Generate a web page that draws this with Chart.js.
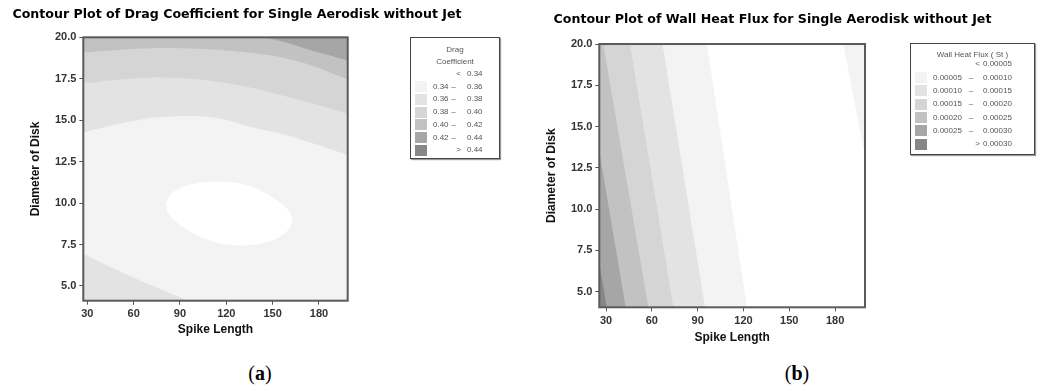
<!DOCTYPE html>
<html>
<head>
<meta charset="utf-8">
<script src="https://cdn.jsdelivr.net/npm/chart.js@4/dist/chart.umd.min.js"></script>
<style>
  body { margin: 0; background: #fff; width: 1043px; height: 391px; position: relative; overflow: hidden; font-family: "Liberation Sans", Arial, sans-serif; }
  canvas { position: absolute; top: 0; }
  #chartA { left: 0; }
  #chartB { left: 520px; }
  .legend { position: absolute; box-sizing: border-box; border: 1px solid #444; box-shadow: 1px 1px 1px #999; background: #fff; color: #555; font-size: 8px; }
  .legend span { position: absolute; white-space: nowrap; line-height: 10px; }
  .legend .sw { position: absolute; width: 12px; height: 11px; }
  .cap { position: absolute; top: 360px; width: 60px; text-align: center; font: 20px "Liberation Serif", serif; line-height: 26px; color: #000; }
</style>
</head>
<body>
<canvas id="chartA" width="474" height="350"></canvas>
<canvas id="chartB" width="505" height="350"></canvas>
<div id="legendA" class="legend"></div>
<div id="legendB" class="legend"></div>
<div class="cap" style="left:230px">(<b>a</b>)</div>
<div class="cap" style="left:767px">(<b>b</b>)</div>
<script>
// axes
const spikeTicks = [30, 60, 90, 120, 150, 180];
const diskTicks = [5, 7.5, 10, 12.5, 15, 17.5, 20];

// (a) drag coefficient contour lines, [spike length, disk diameter]
const dragLevel034 = [[80.9, 9.98], [84.6, 10.58], [92.1, 10.98], [102.9, 11.22], [115.9, 11.28], [128.8, 11.19],
  [141.8, 10.78], [152.6, 10.18], [160.1, 9.58], [162.7, 8.98], [160.1, 8.37], [152.6, 7.87], [139.6, 7.51],
  [128.8, 7.43], [115.9, 7.57], [102.9, 7.97], [90, 8.67], [82.4, 9.38], [80.9, 9.98]];
const dragLevel036 = [[27, 14.26], [57.6, 14.92], [79.2, 15.2], [111.6, 15.16], [139.6, 14.5], [155, 14.2], [176.3, 13.6], [199, 12.9]];
const dragLevel036Low = [[27, 6.97], [46.8, 6.07], [68.4, 5.16], [95, 4.1]];
const dragLevel038 = [[27, 17.2], [51, 17.45], [79.2, 17.57], [122.4, 17.2], [165.5, 16.27], [199, 15.4]];
const dragLevel040 = [[27, 19.08], [55, 19.27], [90, 19.34], [133.2, 19.08], [165.5, 18.57], [199, 17.45]];
const dragLevel042 = [[144, 20], [158, 19.7], [172, 19.3], [199, 18.6]];

// (b) wall heat flux contour lines, [spike length, disk diameter]
const fluxLevel005 = [[122.3, 4.05], [96, 20]];
const fluxLevel010 = [[94.8, 4.05], [67, 20]];
const fluxLevel015 = [[74.1, 4.05], [45.7, 20]];
const fluxLevel020 = [[57.7, 4.05], [28.2, 20]];
const fluxLevel025 = [[42.9, 4.05], [25.6, 13.5]];
const fluxLevel030 = [[30.5, 4.05], [25.6, 6.7]];
const fluxLevel005Top = [[185.4, 20], [199.6, 13.2]];

// legend breaks
const dragBreaks = ['0.34', '0.36', '0.38', '0.40', '0.42', '0.44'];
const fluxBreaks = ['0.00005', '0.00010', '0.00015', '0.00020', '0.00025', '0.00030'];

const grays = ['#ffffff', '#f3f3f3', '#e3e3e3', '#d5d5d5', '#c2c2c2', '#a6a6a6', '#878787'];

Chart.defaults.font.family = '"Liberation Sans", Arial, sans-serif';

function toXY(pts) {
  return pts.map(p => ({ x: p[0], y: p[1] }));
}

function band(pts, color, fill, tension) {
  return {
    data: toXY(pts),
    fill: fill,
    backgroundColor: color,
    borderColor: 'rgba(0,0,0,0)',
    borderWidth: 0,
    pointRadius: 0,
    tension: tension
  };
}

function framePlugin(base) {
  return {
    id: 'frame',
    beforeDatasetsDraw(chart) {
      const { ctx, chartArea: a } = chart;
      ctx.save();
      ctx.fillStyle = base;
      ctx.fillRect(a.left, a.top, a.right - a.left, a.bottom - a.top);
      ctx.restore();
    },
    afterDatasetsDraw(chart) {
      const { ctx, chartArea: a } = chart;
      ctx.save();
      ctx.strokeStyle = '#5a5a5a';
      ctx.lineWidth = 2;
      ctx.strokeRect(a.left, a.top, a.right - a.left, a.bottom - a.top);
      ctx.restore();
    }
  };
}

function makeChart(id, o) {
  // first dataset in the list is painted at the bottom
  o.datasets.forEach((d, i) => { d.order = o.datasets.length - i; });
  const tickFont = { size: 11, weight: 'bold' };
  return new Chart(document.getElementById(id), {
    type: 'line',
    data: { datasets: o.datasets },
    options: {
      responsive: false,
      devicePixelRatio: 1,
      animation: false,
      layout: { padding: 0 },
      plugins: {
        legend: { display: false },
        tooltip: { enabled: false },
        title: {
          display: true,
          text: o.title,
          color: '#000',
          font: { family: '"DejaVu Sans", sans-serif', size: 12.6, weight: 'bold' },
          padding: { top: o.titleTop, bottom: o.titleBottom }
        }
      },
      scales: {
        x: {
          type: 'linear',
          min: o.xMin, max: o.xMax,
          afterBuildTicks: s => { s.ticks = spikeTicks.map(v => ({ value: v })); },
          afterFit: s => { s.height = o.xAxisH; },
          ticks: { color: '#333', font: tickFont, padding: 3, maxRotation: 0, callback: v => String(v) },
          grid: { drawOnChartArea: false, tickLength: 4, color: '#555' },
          border: { display: false },
          title: { display: true, text: 'Spike Length', color: '#111', font: { size: 12, weight: 'bold' }, padding: { top: 0, bottom: o.xTitlePad } }
        },
        y: {
          type: 'linear',
          min: o.yMin, max: 20,
          afterBuildTicks: s => { s.ticks = diskTicks.map(v => ({ value: v })); },
          afterFit: s => { s.width = o.yAxisW; },
          ticks: { color: '#333', font: tickFont, padding: 3, callback: v => v.toFixed(1) },
          grid: { drawOnChartArea: false, tickLength: 4, color: '#555' },
          border: { display: false },
          title: { display: true, text: 'Diameter of Disk', color: '#111', font: { size: 12, weight: 'bold' }, padding: { top: o.yTitlePad, bottom: 0 } }
        },
        gap: {
          type: 'linear',
          position: 'right',
          display: true,
          afterFit: s => { s.width = o.rightW; },
          ticks: { display: false },
          grid: { display: false },
          border: { display: false }
        }
      }
    },
    plugins: [framePlugin(o.base)]
  });
}

// (a)
makeChart('chartA', {
  title: 'Contour Plot of Drag Coefficient for Single Aerodisk without Jet',
  titleTop: 7.2, titleBottom: 15,
  xMin: 27.4, xMax: 198.6, yMin: 4.11,
  xAxisH: 49.3, xTitlePad: 12.8, yAxisW: 83.3, yTitlePad: 28.8, rightW: 126.3,
  base: grays[1],
  datasets: [
    band(dragLevel036, grays[2], 'end', 0.4),
    band(dragLevel038, grays[3], 'end', 0.4),
    band(dragLevel040, grays[4], 'end', 0.4),
    band(dragLevel042, grays[5], 'end', 0.4),
    band(dragLevel036Low, grays[2], 'start', 0.4),
    band(dragLevel034, grays[0], 'shape', 0.3)
  ]
});

// (b) regions left of each line, closed along the axis limits
const bx0 = 25.6, bx1 = 199.6, by0 = 4.05, by1 = 20;
const leftOf = pts => pts.concat([[bx0 - 2, by1 + 1], [bx0 - 2, by0 - 1]]);
makeChart('chartB', {
  title: 'Contour Plot of Wall Heat Flux for Single Aerodisk without Jet',
  titleTop: 12.4, titleBottom: 16.5,
  xMin: bx0, xMax: bx1, yMin: by0,
  xAxisH: 42.7, xTitlePad: 5.5, yAxisW: 79.3, yTitlePad: 24.5, rightW: 160,
  base: grays[0],
  datasets: [
    band(leftOf(fluxLevel005), grays[1], 'shape', 0),
    band(leftOf(fluxLevel010), grays[2], 'shape', 0),
    band(leftOf(fluxLevel015), grays[3], 'shape', 0),
    band(leftOf(fluxLevel020), grays[4], 'shape', 0),
    band(leftOf(fluxLevel025), grays[5], 'shape', 0),
    band(leftOf(fluxLevel030), grays[6], 'shape', 0),
    band(fluxLevel005Top.concat([[bx1 + 2, by1 + 1]]), grays[1], 'shape', 0)
  ]
});

// legend boxes
function buildLegend(id, title, breaks, g) {
  const el = document.getElementById(id);
  Object.assign(el.style, { left: g.left + 'px', top: g.top + 'px', width: g.width + 'px', height: g.height + 'px' });
  const put = (text, x, y, align, w) => {
    const s = document.createElement('span');
    s.textContent = text;
    s.style.top = (y - 5) + 'px';
    if (align === 'center') { s.style.left = (x - w / 2) + 'px'; s.style.width = w + 'px'; s.style.textAlign = 'center'; }
    else s.style.left = x + 'px';
    el.appendChild(s);
  };
  title.forEach((t, i) => put(t, g.width / 2 - 1, g.titleY[i], 'center', g.width));
  const rows = breaks.length + 1;
  for (let r = 0; r < rows; r++) {
    const y = g.rowY + r * g.rowStep;
    if (r > 0) {
      const sw = document.createElement('div');
      sw.className = 'sw';
      sw.style.left = g.swX + 'px';
      sw.style.top = (y - 5.5) + 'px';
      sw.style.background = grays[r];
      el.appendChild(sw);
    }
    if (r === 0) {
      put('<', g.cmpX, y, 'center', 8);
      put(breaks[0], g.hiX, y);
    } else if (r === rows - 1) {
      put('>', g.cmpX, y, 'center', 8);
      put(breaks[breaks.length - 1], g.hiX, y);
    } else {
      put(breaks[r - 1], g.loX, y);
      put('–', g.dashX, y, 'center', 8);
      put(breaks[r], g.hiX, y);
    }
  }
}

buildLegend('legendA', ['Drag', 'Coefficient'], dragBreaks,
  { left: 410, top: 37, width: 90, height: 122, titleY: [12, 24], rowY: 36, rowStep: 12.7, swX: 4, loX: 22, dashX: 42.5, cmpX: 47.5, hiX: 56 });
buildLegend('legendB', ['Wall Heat Flux ( St )'], fluxBreaks,
  { left: 910, top: 43, width: 125, height: 112, titleY: [11], rowY: 20.3, rowStep: 13.3, swX: 4, loX: 22, dashX: 60, cmpX: 66.5, hiX: 72 });
</script>
</body>
</html>
